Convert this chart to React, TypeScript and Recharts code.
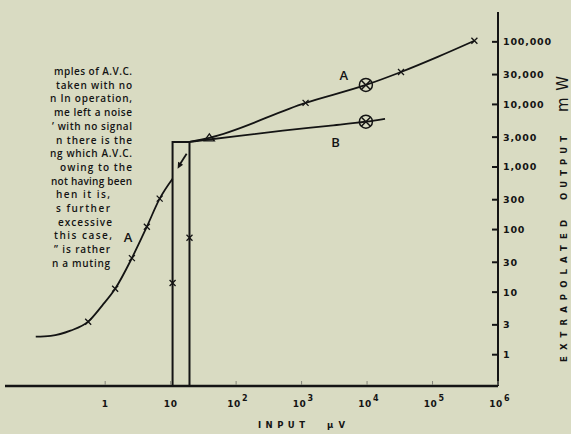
import React from 'react';
import { ComposedChart, Line, Scatter, XAxis, YAxis } from 'recharts';

const INK = '#141414';
const PAPER = '#d9dbc2';

// axis ticks
const xTicks = [1, 10, 100, 1000, 10000, 100000, 1000000];
const xTickBase = ['1', '10', '10', '10', '10', '10', '10'];
const xTickExp = ['', '', '2', '3', '4', '5', '6'];
const yTicks = [1, 3, 10, 30, 100, 300, 1000, 3000, 10000, 30000, 100000];
const yTickLabels = ['1', '3', '10', '30', '100', '300', '1,000', '3,000', '10,000', '30,000', '100,000'];

// curves (input uV, output mW)
const curveALow = [
  { x: 0.087, y: 1.94 }, { x: 0.147, y: 2.0 }, { x: 0.295, y: 2.42 }, { x: 0.55, y: 3.37 },
  { x: 0.9, y: 6.1 }, { x: 1.42, y: 11.3 }, { x: 2.56, y: 35 }, { x: 4.33, y: 111 },
  { x: 6.8, y: 312 }, { x: 10.7, y: 650 },
];
const curveAHigh = [
  { x: 19.4, y: 2520 }, { x: 39, y: 2930 }, { x: 1150, y: 10600 }, { x: 9600, y: 20500 },
  { x: 33000, y: 33000 }, { x: 120000, y: 57500 }, { x: 436000, y: 104000 },
];
const curveB = [
  { x: 19.4, y: 2520 }, { x: 111, y: 3150 }, { x: 517, y: 3800 }, { x: 2570, y: 4550 },
  { x: 9600, y: 5300 }, { x: 18800, y: 5900 },
];
const gate = [
  { x: 10.7, y: 0.32 }, { x: 10.7, y: 2520 }, { x: 19.4, y: 2520 }, { x: 19.4, y: 0.32 },
];

// markers
const crossPts = [
  { x: 0.55, y: 3.37 }, { x: 1.42, y: 11.3 }, { x: 2.56, y: 35 }, { x: 4.33, y: 111 }, { x: 6.8, y: 312 },
  { x: 1150, y: 10600 }, { x: 33000, y: 33000 }, { x: 436000, y: 104000 },
  { x: 10.7, y: 14 }, { x: 19.4, y: 74 },
];
const circlePts = [{ x: 9600, y: 20500 }, { x: 9600, y: 5300 }];
const trianglePts = [{ x: 39, y: 2930 }];
const arrowPts = [{ x: 14.7, y: 1210 }];
const curveLabels = [
  { x: 2.23, y: 77, t: 'A' },
  { x: 4400, y: 30000, t: 'A' },
  { x: 3300, y: 2500, t: 'B' },
];

// clipped article text at top left
const noteLines = [
  'mples of A.V.C.', 'taken  with  no', 'n In  operation,', 'me left a noise', '\u2019 with no signal',
  'n there is the', 'ng which A.V.C.', 'owing  to  the', 'not having been', 'hen  it  is,',
  's  further', 'excessive', 'this case,', '\u201D is rather', 'n a muting',
];
const noteStart = [54, 56, 50, 54, 52, 56, 50, 60, 51, 56, 56, 58, 54, 54, 52];
const noteEnd = [132, 132, 132, 132, 132, 132, 132, 132, 132, 110, 110, 112, 112, 110, 110];

const XTick = (p: any) => {
  const i = xTicks.indexOf(p.payload.value);
  const { x, y } = p;
  return (
    <g>
      <line x1={x} x2={x} y1={y - 5} y2={y - 1} stroke="#85867a" strokeWidth={1} />
      <text x={x - (xTickExp[i] ? 2 : 0)} y={y + 21} textAnchor="middle" fontFamily="DejaVu Sans" fontWeight="bold" fontSize={9} letterSpacing={0.6} fill={INK}>
        {xTickBase[i]}
      </text>
      {xTickExp[i] && (
        <text x={x + 6} y={y + 15} fontFamily="DejaVu Sans" fontWeight="bold" fontSize={8} fill={INK}>{xTickExp[i]}</text>
      )}
    </g>
  );
};

const YTick = (p: any) => {
  const i = yTicks.indexOf(p.payload.value);
  const { x, y } = p;
  return (
    <g>
      <line x1={x - 6} x2={x - 1} y1={y} y2={y} stroke={INK} strokeWidth={2} />
      <text x={x + 5} y={y} dominantBaseline="central" fontFamily="DejaVu Sans" fontWeight="bold" fontSize={9.5} letterSpacing={0.8} fill={INK}>
        {yTickLabels[i]}
      </text>
    </g>
  );
};

const CrossMark = ({ cx, cy }: any) => (
  <path d={`M${cx - 3},${cy - 3}L${cx + 3},${cy + 3}M${cx - 3},${cy + 3}L${cx + 3},${cy - 3}`} stroke={INK} strokeWidth={1.3} />
);
const CircleMark = ({ cx, cy }: any) => (
  <g stroke={INK} strokeWidth={1.5} fill="none">
    <circle cx={cx} cy={cy} r={6.5} />
    <path d={`M${cx - 4.5},${cy - 4.5}L${cx + 4.5},${cy + 4.5}M${cx - 4.5},${cy + 4.5}L${cx + 4.5},${cy - 4.5}`} />
  </g>
);
const TriangleMark = ({ cx, cy }: any) => (
  <path d={`M${cx},${cy - 4}L${cx - 5},${cy + 3}L${cx + 5},${cy + 3}Z`} stroke={INK} strokeWidth={1.3} fill="none" />
);
const ArrowMark = ({ cx, cy }: any) => (
  <g>
    <path d={`M${cx + 5},${cy - 8}L${cx - 2},${cy + 3}`} stroke={INK} strokeWidth={1.8} />
    <path d={`M${cx - 4},${cy + 7}L${cx - 3.5},${cy}L${cx + 1.5},${cy + 3}Z`} fill={INK} />
  </g>
);
const LabelMark = ({ cx, cy, payload }: any) => (
  <text x={cx} y={cy} textAnchor="middle" dominantBaseline="central" fontFamily="Open Sans" fontWeight={600} fontSize={13} fill={INK}>
    {payload.t}
  </text>
);

export default function App() {
  return (
    <div style={{ position: 'absolute', left: 0, top: 0, width: 571, height: 434, background: PAPER, overflow: 'hidden' }}>
      <ComposedChart width={571} height={434} margin={{ top: 12, right: 13, bottom: 0, left: 5 }}>
        <XAxis
          dataKey="x"
          type="number"
          scale="log"
          domain={[0.0295, 1000000]}
          allowDataOverflow
          ticks={xTicks}
          interval={0}
          height={48}
          tickSize={0}
          tickMargin={0}
          tick={<XTick />}
          axisLine={{ stroke: INK, strokeWidth: 2.5 }}
        />
        <YAxis
          dataKey="y"
          type="number"
          scale="log"
          orientation="right"
          domain={[0.316, 300000]}
          allowDataOverflow
          ticks={yTicks}
          interval={0}
          width={60}
          tickSize={0}
          tickMargin={0}
          tick={<YTick />}
          axisLine={{ stroke: INK, strokeWidth: 2 }}
        />
        <Line data={gate} dataKey="y" type="linear" stroke={INK} strokeWidth={2} dot={false} isAnimationActive={false} />
        <Line data={curveALow} dataKey="y" type="monotone" stroke={INK} strokeWidth={1.8} dot={false} isAnimationActive={false} />
        <Line data={curveAHigh} dataKey="y" type="monotone" stroke={INK} strokeWidth={1.8} dot={false} isAnimationActive={false} />
        <Line data={curveB} dataKey="y" type="monotone" stroke={INK} strokeWidth={1.8} dot={false} isAnimationActive={false} />
        <Scatter data={crossPts} dataKey="y" shape={CrossMark} isAnimationActive={false} />
        <Scatter data={circlePts} dataKey="y" shape={CircleMark} isAnimationActive={false} />
        <Scatter data={trianglePts} dataKey="y" shape={TriangleMark} isAnimationActive={false} />
        <Scatter data={arrowPts} dataKey="y" shape={ArrowMark} isAnimationActive={false} />
        <Scatter data={curveLabels} dataKey="y" shape={LabelMark} isAnimationActive={false} />
      </ComposedChart>
      <svg width={571} height={434} style={{ position: 'absolute', left: 0, top: 0, pointerEvents: 'none' }}>
        {noteLines.map((t, i) => (
          <text
            key={i}
            x={noteStart[i]}
            y={71 + i * 13.7}
            dominantBaseline="central"
            textLength={noteEnd[i] - noteStart[i]}
            lengthAdjust="spacing"
            fontFamily="Open Sans"
            fontWeight={600}
            fontSize={10}
            fill={INK}
          >
            {t}
          </text>
        ))}
        <text x={258} y={428} textLength={47} lengthAdjust="spacing" fontFamily="DejaVu Sans" fontWeight="bold" fontSize={8.5} fill={INK}>INPUT</text>
        <text x={327} y={428} textLength={18} lengthAdjust="spacing" fontFamily="DejaVu Sans" fontWeight="bold" fontSize={8.5} fill={INK}>{'\u00B5V'}</text>
        <g transform="translate(567,362) rotate(-90)">
          <text x={0} y={0} textLength={142} lengthAdjust="spacing" fontFamily="DejaVu Sans" fontWeight="bold" fontSize={8.5} fill={INK}>EXTRAPOLATED</text>
          <text x={162} y={0} textLength={64} lengthAdjust="spacing" fontFamily="DejaVu Sans" fontWeight="bold" fontSize={8.5} fill={INK}>OUTPUT</text>
          <text x={250} y={1} textLength={36} lengthAdjust="spacing" fontFamily="DejaVu Sans" fontSize={15} fill={INK}>mW</text>
        </g>
      </svg>
    </div>
  );
}
